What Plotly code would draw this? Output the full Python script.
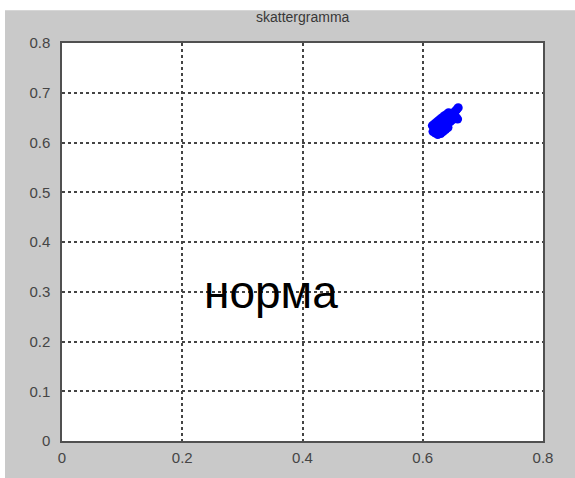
import plotly.graph_objects as go

# Scattergram cluster (x, y)
x_vals = [0.620, 0.624, 0.628, 0.632, 0.636, 0.640, 0.644, 0.648,
          0.626, 0.630, 0.634, 0.638, 0.642, 0.646, 0.650, 0.653,
          0.616, 0.620, 0.624, 0.628, 0.632, 0.636, 0.640, 0.643,
          0.630, 0.634, 0.638, 0.642,
          0.617, 0.621, 0.625,
          0.652, 0.655, 0.657, 0.659, 0.656, 0.658]
y_vals = [0.628, 0.632, 0.636, 0.640, 0.644, 0.648, 0.652, 0.656,
          0.622, 0.626, 0.630, 0.634, 0.638, 0.642, 0.646, 0.650,
          0.634, 0.638, 0.642, 0.646, 0.650, 0.654, 0.657, 0.660,
          0.618, 0.622, 0.626, 0.630,
          0.622, 0.619, 0.616,
          0.661, 0.664, 0.667, 0.670, 0.650, 0.647]

title_text = "skattergramma"
label_text = "норма"
x_ticks = [0, 0.2, 0.4, 0.6, 0.8]
x_tick_labels = ["0", "0.2", "0.4", "0.6", "0.8"]
y_ticks = [0, 0.1, 0.2, 0.3, 0.4, 0.5, 0.6, 0.7, 0.8]
y_tick_labels = ["0", "0.1", "0.2", "0.3", "0.4", "0.5", "0.6", "0.7", "0.8"]

fig = go.Figure()
fig.add_trace(go.Scatter(
    x=x_vals, y=y_vals, mode="markers",
    marker=dict(color="#0000ff", size=9, line=dict(width=0)),
    showlegend=False, hoverinfo="skip",
))

axis_common = dict(
    showgrid=True, gridcolor="#444444", griddash="dot", gridwidth=1.5,
    zeroline=False, showline=True, linecolor="#505050", linewidth=1.5,
    mirror=True, ticks="", tickfont=dict(family="Arial", size=15, color="#454545"),
)

fig.update_layout(
    width=575, height=478,
    margin=dict(l=62, r=32, t=43, b=23),
    paper_bgcolor="#c9c9c9", plot_bgcolor="white",
    xaxis=dict(range=[0, 0.8], tickvals=x_ticks, ticktext=x_tick_labels,
               ticklabelstandoff=2, **axis_common),
    yaxis=dict(range=[0, 0.8], tickvals=y_ticks, ticktext=y_tick_labels,
               ticklabelstandoff=7, **axis_common),
    annotations=[
        dict(text=title_text, x=0.5, y=1.0, xref="paper", yref="paper",
             xanchor="center", yanchor="bottom", yshift=16, showarrow=False,
             font=dict(family="Arial", size=14, color="#383838")),
        dict(text=label_text, x=0.348, y=0.30, xref="x", yref="y",
             xanchor="center", yanchor="middle", showarrow=False,
             font=dict(family="Arial", size=46, color="black")),
    ],
    shapes=[
        # white strips framing the figure window
        dict(type="rect", xref="paper", yref="paper", x0=-0.2, x1=1.2,
             y0=1.0825, y1=1.2, fillcolor="white", line=dict(width=0), layer="below"),
        dict(type="rect", xref="paper", yref="paper", x0=-0.2, x1=-0.1185,
             y0=-0.2, y1=1.2, fillcolor="white", line=dict(width=0), layer="below"),
    ],
)

fig.write_html("out.html")
